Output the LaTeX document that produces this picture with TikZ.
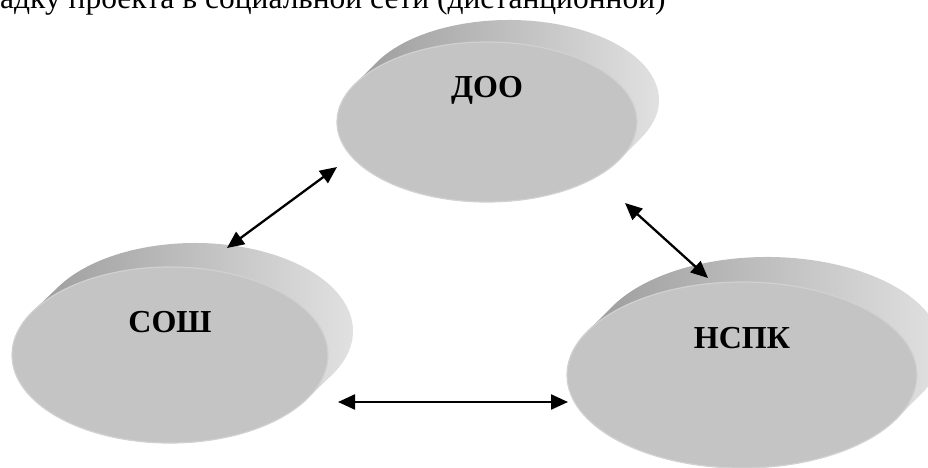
\documentclass[tikz,border=0pt]{standalone}
\usepackage{fontspec}
\setmainfont{Liberation Serif}
\usetikzlibrary{arrows.meta,calc,shapes.geometric}

\definecolor{faceGray}{gray}{0.77}
\definecolor{faceRim}{gray}{0.82}
\definecolor{sideDark}{gray}{0.58}
\definecolor{sideMid}{gray}{0.67}
\definecolor{sideLight}{gray}{0.90}

\begin{document}
\begin{tikzpicture}[
  x=1pt, y=1pt,
  face/.style={ellipse, fill=faceGray, draw=faceRim, line width=1.2pt, inner sep=0pt},
  side/.style={left color=sideDark, middle color=sideMid, right color=sideLight},
  lbl/.style={font=\fontsize{32}{38}\selectfont\bfseries},
  head/.style={font=\fontsize{31.5}{38}\selectfont},
  link/.style={{Triangle[length=17pt,width=15pt]}-{Triangle[length=17pt,width=15pt]}, line width=2.3pt}
]
\clip (0,0) rectangle (928,-468);

% ── cut-off line above the picture ─────────────────────────────────────
\node[head, anchor=base west, inner sep=0pt] (title) at (0,-9)
  {адку проекта в социальной сети (дистанционной)};

% ── the three disks: centre, radii, depth shift, name, text ────────────
\foreach \cx/\cy/\rx/\ry/\dx/\dy/\nm/\txt/\ty in {
    487/-122/150/80/22/22/doo/ДОО/-90,
    170/-355/158/88/25/24/sosh/СОШ/-322,
    742/-375/175/93/25/25/nspk/НСПК/-338} {
  \coordinate (\nm-f) at (\cx,\cy);
  \coordinate (\nm-b) at (\cx+\dx,\cy+\dy);
  \pgfmathsetmacro\thA{atan(-\ry*\dx/(\rx*\dy))}
  \pgfmathsetmacro\thB{\thA+180}
  \shade[side] ($(\nm-f)+({\rx*cos(\thB)},{\ry*sin(\thB)})$)
    -- ($(\nm-b)+({\rx*cos(\thB)},{\ry*sin(\thB)})$)
    arc[start angle=\thB, end angle=\thA, x radius=\rx, y radius=\ry]
    -- ($(\nm-f)+({\rx*cos(\thA)},{\ry*sin(\thA)})$)
    arc[start angle=\thA, end angle=\thA-180, x radius=\rx, y radius=\ry] -- cycle;
  \node[face, minimum width=2*\rx, minimum height=2*\ry] (\nm) at (\nm-f) {};
  \node[lbl] (\nm-t) at (\cx,\ty) {\txt};
}

% ── links ──────────────────────────────────────────────────────────────
\coordinate (doo-l) at (337,-167);
\coordinate (sosh-u) at (227,-248);
\coordinate (doo-r) at (625,-203);
\coordinate (nspk-u) at (708,-278);
\coordinate (sosh-r) at (338,-402);
\coordinate (nspk-l) at (568,-402);
\draw[link] (doo-l) -- (sosh-u);
\draw[link] (doo-r) -- (nspk-u);
\draw[link] (sosh-r) -- (nspk-l);

\end{tikzpicture}
\end{document}
